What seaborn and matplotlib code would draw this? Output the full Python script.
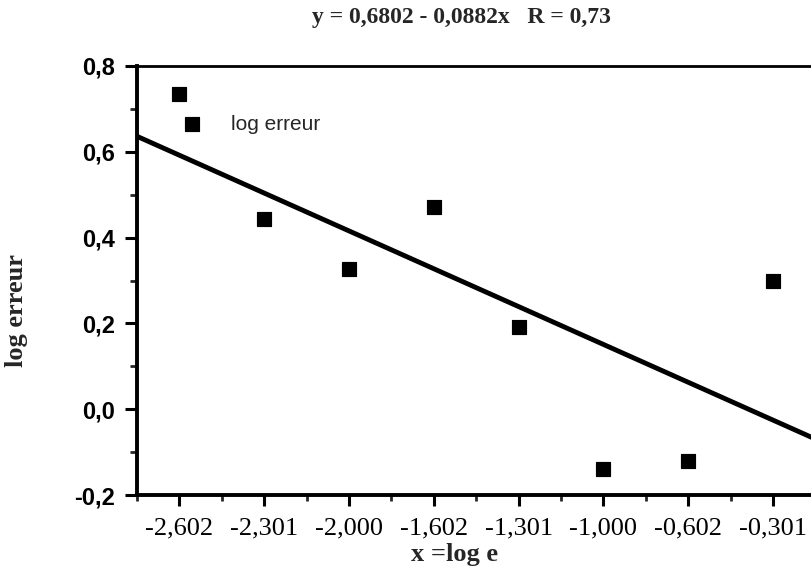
import numpy as np
import pandas as pd
import matplotlib
matplotlib.use("Agg")
import matplotlib.pyplot as plt
import seaborn as sns
from matplotlib.ticker import MultipleLocator

# data
x_labels = ["-2,602", "-2,301", "-2,000", "-1,602", "-1,301", "-1,000", "-0,602", "-0,301"]
log_erreur = [0.734, 0.444, 0.326, 0.472, 0.191, -0.140, -0.121, 0.298]
intercept = 0.6802
slope = -0.0882
y_ticks = [-0.2, 0.0, 0.2, 0.4, 0.6, 0.8]
y_tick_labels = ["-0,2", "0,0", "0,2", "0,4", "0,6", "0,8"]

df = pd.DataFrame({"pos": np.arange(1, len(x_labels) + 1), "log erreur": log_erreur})

sns.set_style("ticks")
plt.rcParams["font.family"] = ["Liberation Serif", "DejaVu Serif"]

fig = plt.figure(figsize=(8.12, 5.78), dpi=100)
ax = fig.add_axes([137 / 812, 83 / 578, 1 - 137 / 812, 429 / 578])

ax.set_xlim(0.5, 8.46)
ax.set_ylim(-0.2, 0.8)

# regression line from the equation in the title
xs = np.array(ax.get_xlim())
sns.lineplot(x=xs, y=intercept + slope * xs, color="black", linewidth=3.5, ax=ax)

sns.scatterplot(data=df, x="pos", y="log erreur", marker="s", s=110,
                color="black", edgecolor="black", label="log erreur", ax=ax, zorder=3)

ax.set_xlim(0.5, 8.46)
ax.set_ylim(-0.2, 0.8)

# axes styling
for side in ["left", "bottom"]:
    ax.spines[side].set_linewidth(2.8)
ax.spines["top"].set_linewidth(2.0)
ax.spines["right"].set_visible(False)
for sp in ax.spines.values():
    sp.set_color("black")

ax.set_xticks(df["pos"])
ax.set_xticklabels(x_labels)
ax.xaxis.set_minor_locator(MultipleLocator(0.5))
ax.set_yticks(y_ticks)
ax.set_yticklabels(y_tick_labels)
ax.yaxis.set_minor_locator(MultipleLocator(0.1))

ax.tick_params(axis="x", which="major", length=8, width=2.2, pad=8, labelsize=19, colors="black")
ax.tick_params(axis="x", which="minor", length=4.5, width=2.0)
ax.tick_params(axis="y", which="major", length=8.5, width=2.2, pad=7, labelsize=17, colors="black")
ax.tick_params(axis="y", which="minor", length=5, width=2.0)
for t in ax.get_yticklabels():
    t.set_fontfamily(["Liberation Sans", "DejaVu Sans"])
    t.set_fontweight("bold")

ax.set_xlabel("x =log e", fontsize=19, fontweight="bold")
ax.xaxis.set_label_coords(0.471, -0.113)
ax.set_ylabel("log erreur", fontsize=19, fontweight="bold")
ax.yaxis.set_label_coords(-0.162, 0.431)

fig.text(461 / 812, 1 - 18 / 578, "y = 0,6802 - 0,0882x   R = 0,73",
         ha="center", va="center", fontsize=17, fontweight="bold")

leg = ax.legend(loc="upper left", bbox_to_anchor=(0.038, 0.906), frameon=False,
                handletextpad=0.9, borderaxespad=0,
                prop={"family": ["Liberation Sans", "DejaVu Sans"], "size": 15})

fig.savefig("out.png", dpi=100, facecolor="white")
